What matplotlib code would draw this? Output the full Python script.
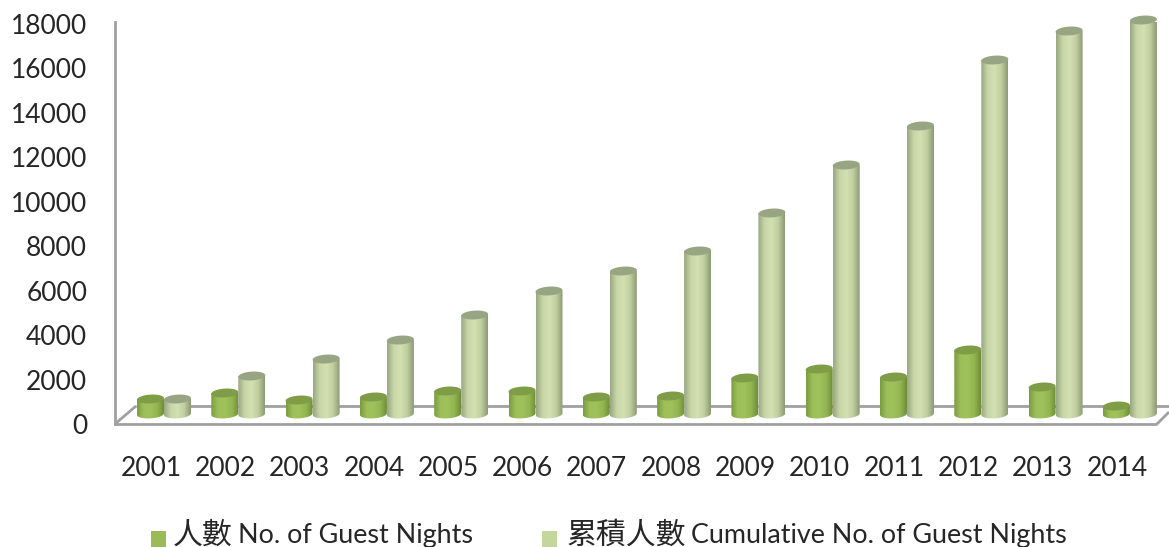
#!/usr/bin/env python3
"""Guest nights per year, drawn as pseudo 3D cylinders"""

import matplotlib
matplotlib.use('Agg')
import matplotlib.pyplot as plt
from matplotlib.colors import LinearSegmentedColormap
from matplotlib.patches import PathPatch, Polygon, Rectangle
from matplotlib.path import Path
import numpy as np

years = ['2001', '2002', '2003', '2004', '2005', '2006', '2007',
         '2008', '2009', '2010', '2011', '2012', '2013', '2014']
nights = [675, 945, 630, 765, 1035, 1035, 765, 810, 1620, 2025, 1665, 2880, 1215, 360]
cumulative = [675, 1710, 2475, 3330, 4455, 5535, 6435, 7335, 9045, 11205,
              12960, 15930, 17235, 17730]
y_ticks = [0, 2000, 4000, 6000, 8000, 10000, 12000, 14000, 16000, 18000]

W, H = 1169, 547
UNITS_PER_PX = 45.0
AXIS_GREY = '#a0a0a0'
LATIN = 'Lato'
FAMILY = ['Lato', 'Noto Sans CJK TC']

dark_cmap = LinearSegmentedColormap.from_list(
    'dark', ['#7b9a42', '#9dc05a', '#a0c25c', '#94b652', '#6f8c39'])
light_cmap = LinearSegmentedColormap.from_list(
    'light', ['#98a781', '#c8d6a8', '#d2e0b2', '#c0cea0', '#8b9a74'])

fig = plt.figure(figsize=(W / 100, H / 100), dpi=100)
ax = fig.add_axes([115 / W, (H - 424) / H, (W - 115) / W, 402 / H])
ax.set_ylim(0, 402 * UNITS_PER_PX)

# category index -> pixel: px = 164 + 74.3 * i
ax.set_xlim((115 - 164) / 74.3, (W - 164) / 74.3)

for side in ['top', 'right', 'bottom']:
    ax.spines[side].set_visible(False)
ax.spines['left'].set_color(AXIS_GREY)
ax.spines['left'].set_linewidth(2)

px_x = lambda px: (px - 164) / 74.3
px_y = lambda px: (424 - px) * UNITS_PER_PX

# floor of the 3D box
floor = [((115, 424), (1157, 424)), ((136, 406), (1169, 406)),
         ((115, 424), (136, 406)), ((1157, 424), (1169, 412))]
for a, b in floor:
    ax.plot([px_x(a[0]), px_x(b[0])], [px_y(a[1]), px_y(b[1])],
            color=AXIS_GREY, lw=2, clip_on=False, zorder=1, solid_capstyle='butt')


def draw_cylinder(x0, width, value, cmap, top_color):
    base = 10 * UNITS_PER_PX
    top = base + value
    x1 = x0 + width
    b = 4.4 * UNITS_PER_PX
    tilt = 0.8 * UNITS_PER_PX
    t = np.linspace(0, 2 * np.pi, 60)
    ex = (x0 + x1) / 2 + width / 2 * np.cos(t)
    ey = b * np.sin(t) + tilt * np.cos(t)

    # body: sides plus lower half of the base ellipse
    low = t[30:]
    lx = (x0 + x1) / 2 + width / 2 * np.cos(low)
    ly = base + b * np.sin(low) + tilt * np.cos(low)
    verts = [(x1, top)] + [(x0, top)] + list(zip(lx, ly)) + [(x1, top)]
    body = PathPatch(Path(verts), facecolor='none', edgecolor='none', zorder=3)
    ax.add_patch(body)
    grad = np.linspace(0, 1, 128).reshape(1, -1)
    im = ax.imshow(grad, extent=(x0, x1, base - 2 * b, top), aspect='auto',
                   cmap=cmap, zorder=3, interpolation='bilinear')
    im.set_clip_path(body)
    ax.add_patch(Polygon(np.column_stack([ex, top + ey]), closed=True, clip_on=False,
                         facecolor=top_color, edgecolor='none', zorder=3))


bar_w = 27 / 74.3
for i in range(len(years)):
    draw_cylinder(i - bar_w, bar_w, nights[i], dark_cmap, '#7f9c47')
    draw_cylinder(i, bar_w, cumulative[i], light_cmap, '#98a583')

ax.set_xlim((115 - 164) / 74.3, (W - 164) / 74.3)
ax.set_ylim(0, 402 * UNITS_PER_PX)

ax.set_yticks(y_ticks)
ax.set_yticklabels([str(v) for v in y_ticks], family=LATIN, fontsize=19, color='#262626')
ax.set_xticks([i - 13 / 74.3 for i in range(len(years))])
ax.set_xticklabels(years, family=LATIN, fontsize=19, color='#262626')
ax.tick_params(axis='y', length=0, pad=20)
ax.tick_params(axis='x', length=0, pad=23)

# legend, placed by hand like the original
def legend_entry(sq_x, sq_color, cjk, cjk_x, latin, latin_x):
    fig.add_artist(Rectangle((sq_x / W, 0), 15 / W, 16 / H, transform=fig.transFigure,
                             facecolor=sq_color, edgecolor='none'))
    fig.text(cjk_x / W, (H - 535) / H, cjk, family=FAMILY, fontsize=21.5,
             color='#262626', va='center', ha='left')
    fig.text(latin_x / W, (H - 535) / H, latin, family=LATIN, fontsize=19.4,
             color='#262626', va='center', ha='left')


legend_entry(151, '#9bbb59', '人數', 173, 'No. of Guest Nights', 238)
legend_entry(542, '#c3d69b', '累積人數', 567, 'Cumulative No. of Guest Nights', 691)

fig.savefig('out.png', dpi=100)
